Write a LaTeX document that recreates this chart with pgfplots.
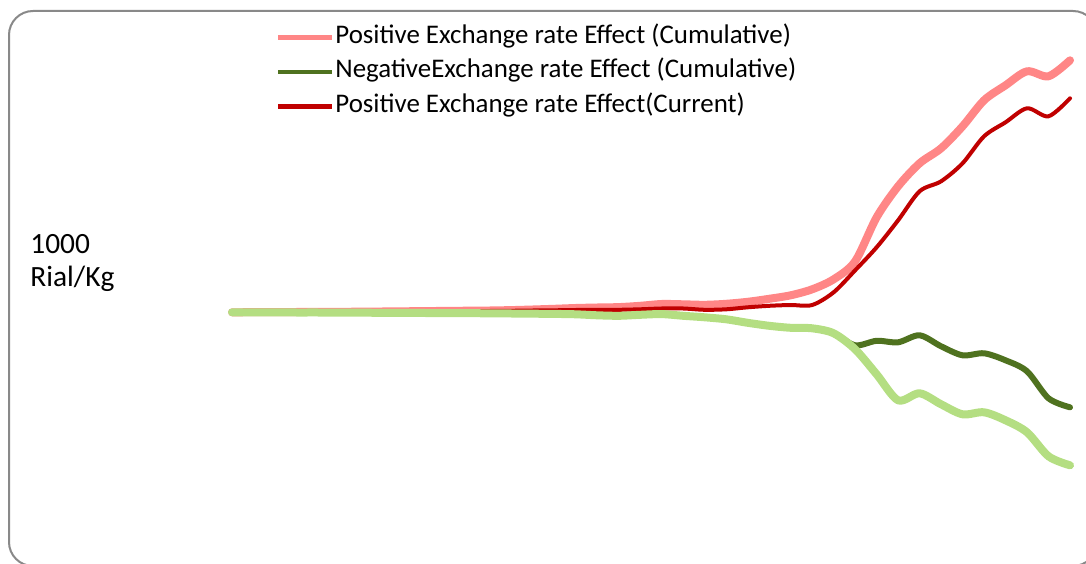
\documentclass[border=0pt]{standalone}
\usepackage{pgfplots}
\pgfplotsset{compat=1.18}
\usepackage{fontspec}
\setmainfont{Carlito}
\definecolor{lred}{RGB}{255,134,134}
\definecolor{dred}{RGB}{192,0,0}
\definecolor{dgreen}{RGB}{79,114,31}
\definecolor{lgreen}{RGB}{180,222,130}
\definecolor{boxgray}{RGB}{137,137,137}
\begin{document}
\begin{tikzpicture}
\useasboundingbox (0,0) rectangle (543pt,281.5pt);
\begin{scope}
\clip (0,0) rectangle (543pt,281.5pt);
\draw[boxgray, line width=1pt, rounded corners=12pt] (4.5pt,-1.5pt) rectangle (548.5pt,276pt);
\end{scope}
\node[anchor=west, align=left, font=\fontsize{14.7}{16.5}\selectfont, inner sep=0pt] at (15pt,150.25pt) {1000\\Rial/Kg};
\begin{axis}[
  at={(116pt,25.35pt)}, anchor=south west,
  scale only axis, width=419pt, height=250pt,
  xmin=0, xmax=39, ymin=-200, ymax=300,
  hide axis, clip=false,
  legend cell align=left,
  legend style={at={(0.0525,0.9736)}, anchor=north west, draw=none, fill=none,
    inner sep=0pt, outer sep=0pt, font=\fontsize{13.45}{16}\selectfont,
    row sep=5.25pt, nodes={inner sep=0pt, text height=9pt, text depth=3pt},
    /tikz/every odd column/.append style={column sep=0.5pt}},
  legend image code/.code={\draw[#1, line width=2.2pt, line cap=butt] (0pt,0pt) -- (27pt,0pt);},
  every axis plot/.append style={smooth, line cap=round, line join=round, no markers},
]
\addplot[lred, line width=4pt] coordinates {
(0,0) (1,0.1) (2,0.2) (3,0.3) (4,0.4) (5,0.5) (6,0.6) (7,0.8) (8,1.0) (9,1.2)
(10,1.4) (11,1.6) (12,1.8) (13,2.2) (14,2.8) (15,3.5) (16,4.3) (17,4.8) (18,5.2) (19,6.5)
(20,8.3) (21,8.0) (22,7.5) (23,8.5) (24,10.5) (25,13.5) (26,17) (27,23) (28,33) (29,51)
(30,95) (31,126) (32,149) (33,164) (34,186) (35,212) (36,227) (37,241) (38,236) (39,252)};
\addlegendentry{Positive Exchange rate Effect (Cumulative)}
\addplot[dgreen, line width=3pt] coordinates {
(0,0) (1,-0.1) (2,-0.1) (3,-0.2) (4,-0.2) (5,-0.3) (6,-0.4) (7,-0.5) (8,-0.6) (9,-0.7)
(10,-0.8) (11,-0.9) (12,-1.0) (13,-1.2) (14,-1.4) (15,-1.6) (16,-2.0) (17,-3.0) (18,-3.5) (19,-2.5)
(20,-1.8) (21,-3.5) (22,-5.0) (23,-7.0) (24,-10.5) (25,-13.5) (26,-15.5) (27,-16) (28,-21) (29,-33)
(30,-28.5) (31,-30) (32,-23) (33,-34) (34,-43) (35,-41) (36,-48) (37,-59) (38,-86) (39,-95)};
\addlegendentry{NegativeExchange rate Effect (Cumulative)}
\addplot[dred, line width=2pt] coordinates {
(0,0) (1,0.1) (2,0.2) (3,0.3) (4,0.4) (5,0.5) (6,0.6) (7,0.7) (8,0.8) (9,0.9)
(10,1.0) (11,1.1) (12,1.3) (13,1.5) (14,1.8) (15,2.0) (16,2.3) (17,2.5) (18,2.5) (19,3.0)
(20,3.8) (21,3.8) (22,2.5) (23,3.0) (24,5.0) (25,6.5) (26,7.3) (27,7.3) (28,20) (29,42)
(30,65) (31,92) (32,121) (33,131) (34,149) (35,176) (36,190) (37,204) (38,196) (39,214)};
\addlegendentry{Positive Exchange rate Effect(Current)}
\addplot[lgreen, line width=4pt, forget plot] coordinates {
(0,0) (1,-0.1) (2,-0.1) (3,-0.2) (4,-0.2) (5,-0.3) (6,-0.4) (7,-0.5) (8,-0.6) (9,-0.7)
(10,-0.8) (11,-0.9) (12,-1.0) (13,-1.2) (14,-1.4) (15,-1.6) (16,-2.0) (17,-3.0) (18,-3.5) (19,-2.5)
(20,-1.8) (21,-3.5) (22,-5.0) (23,-7.0) (24,-10.5) (25,-13.5) (26,-15.5) (27,-16) (28,-21) (29,-37)
(30,-62) (31,-88) (32,-81) (33,-92) (34,-102) (35,-100) (36,-108) (37,-120) (38,-144) (39,-153)};
\end{axis}
\end{tikzpicture}
\end{document}
